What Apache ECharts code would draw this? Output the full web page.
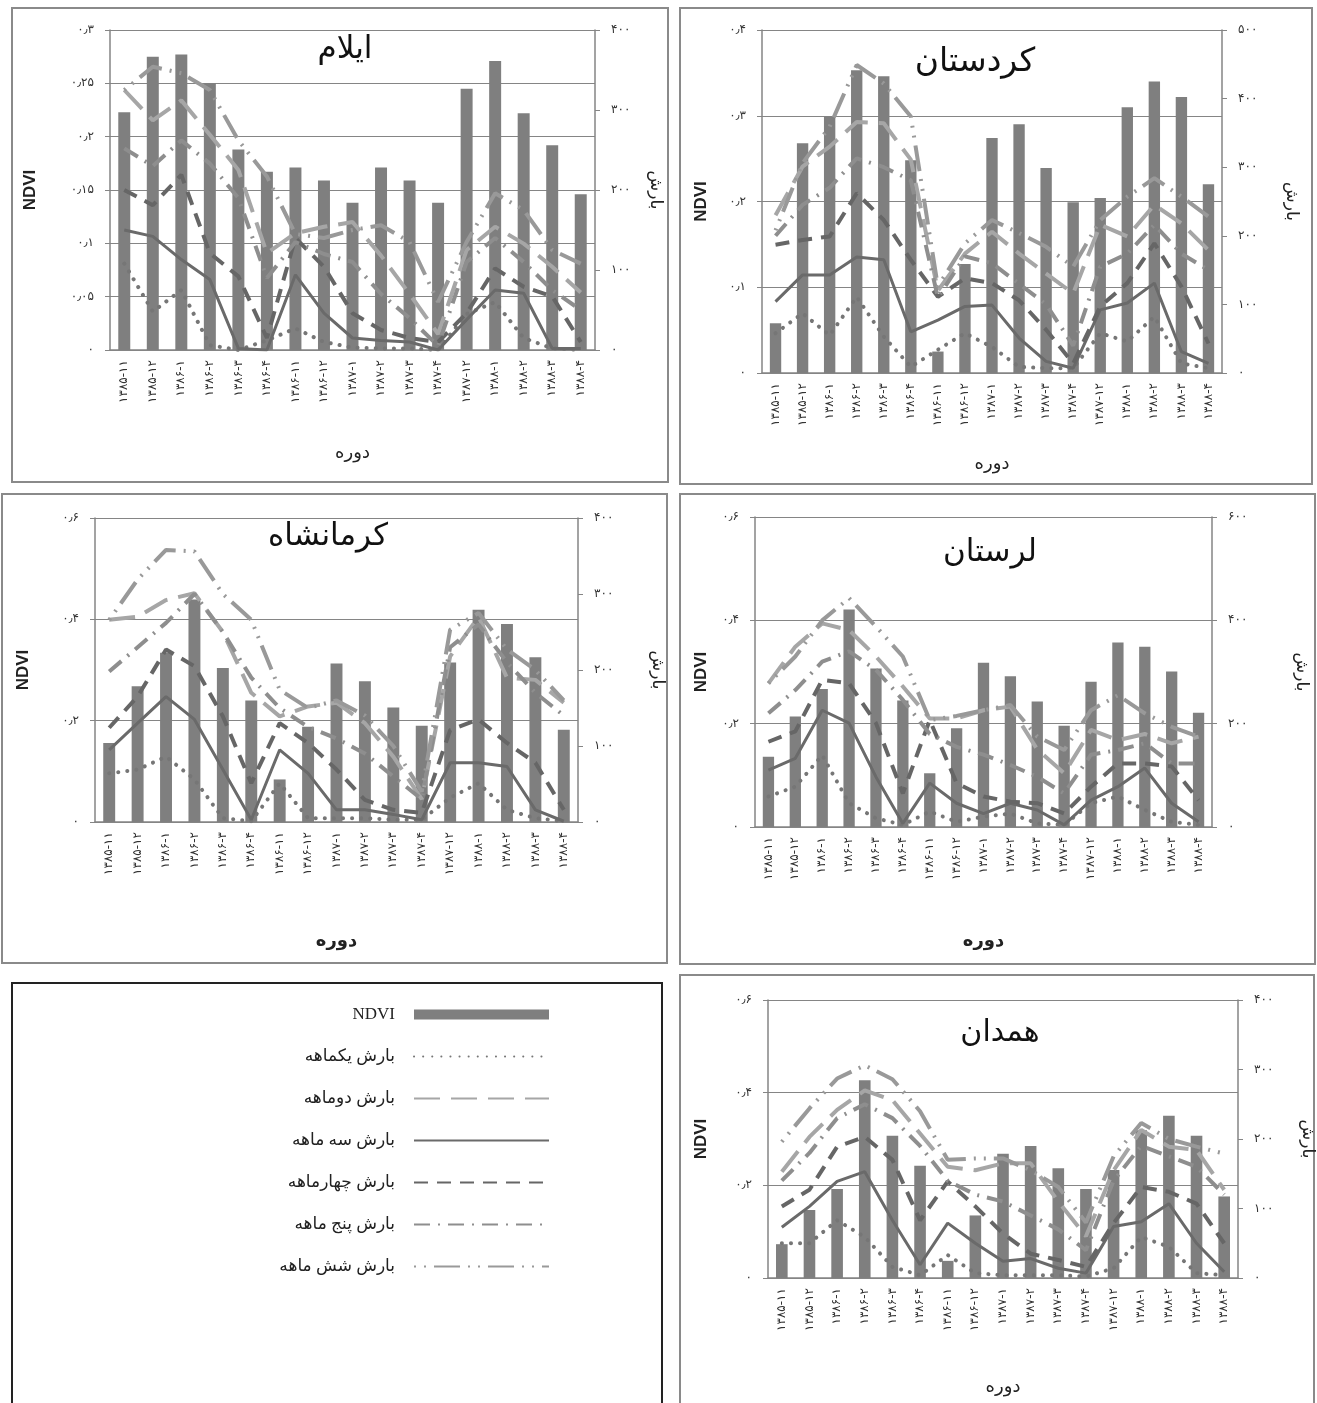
<!DOCTYPE html>
<html><head><meta charset="utf-8">
<script src="https://cdn.jsdelivr.net/npm/echarts@6/dist/echarts.min.js"></script>
<style>html,body{margin:0;padding:0;background:#fff}#c{width:1317px;height:1403px}</style>
</head><body><div id="c"></div><script>
// ---------- DATA ----------
const categories = ['۱۳۸۵-۱۱','۱۳۸۵-۱۲','۱۳۸۶-۱','۱۳۸۶-۲','۱۳۸۶-۳','۱۳۸۶-۴','۱۳۸۶-۱۱','۱۳۸۶-۱۲','۱۳۸۷-۱','۱۳۸۷-۲','۱۳۸۷-۳','۱۳۸۷-۴','۱۳۸۷-۱۲','۱۳۸۸-۱','۱۳۸۸-۲','۱۳۸۸-۳','۱۳۸۸-۴'];
const seriesNames = ['NDVI','بارش یکماهه','بارش دوماهه','بارش سه ماهه','بارش چهارماهه','بارش پنج ماهه','بارش شش ماهه'];
const panelTitles = ['ایلام','کردستان','کرمانشاه','لرستان','همدان'];
const xAxisName = 'دوره';
const leftAxisName = 'NDVI';
const rightAxisName = 'بارش';

// Ilam
const ilamNdvi  = [0.223,0.275,0.277,0.25,0.188,0.167,0.171,0.159,0.138,0.171,0.159,0.138,0.245,0.271,0.222,0.192,0.146];
const ilamRain1 = [108,48,75,6,0,12,27,10,3,2,2,0,45,60,15,2,0];
const ilamRain2 = [325,287,312,269,225,121,146,154,160,118,70,20,125,154,133,104,72];
const ilamRain3 = [150,142,113,88,2,0,94,46,15,12,10,0,38,75,71,2,2];
const ilamRain4 = [200,181,219,121,92,15,140,104,46,25,15,10,46,102,79,67,10];
const ilamRain5 = [252,230,262,233,190,90,135,120,110,70,40,5,110,140,110,75,50];
const ilamRain6 = [325,354,346,325,262,217,145,140,150,156,135,60,135,196,175,125,108];
const ilamNdviTicks = ['۰','۰٫۰۵','۰٫۱','۰٫۱۵','۰٫۲','۰٫۲۵','۰٫۳'];
const ilamRainTicks = ['۰','۱۰۰','۲۰۰','۳۰۰','۴۰۰'];

// Kordestan
const kordNdvi  = [0.058,0.268,0.299,0.353,0.346,0.248,0.025,0.127,0.274,0.29,0.239,0.199,0.204,0.31,0.34,0.322,0.22];
const kordRain1 = [58,87,55,111,53,9,34,58,38,9,7,7,58,46,82,14,7];
const kordRain2 = [230,301,330,366,364,311,120,174,206,174,145,116,216,199,245,218,179];
const kordRain3 = [104,143,143,169,165,60,77,97,99,51,17,7,92,102,131,31,14];
const kordRain4 = [187,194,199,262,223,165,111,138,131,106,63,14,97,131,189,126,43];
const kordRain5 = [200,245,270,313,300,281,110,170,160,130,100,40,155,174,216,174,150];
const kordRain6 = [208,306,359,449,422,374,126,189,223,204,184,155,223,257,284,257,228];
const kordNdviTicks = ['۰','۰٫۱','۰٫۲','۰٫۳','۰٫۴'];
const kordRainTicks = ['۰','۱۰۰','۲۰۰','۳۰۰','۴۰۰','۵۰۰'];

// Kermanshah
const kermNdvi  = [0.156,0.268,0.334,0.439,0.304,0.24,0.084,0.188,0.313,0.278,0.226,0.19,0.315,0.419,0.391,0.325,0.182];
const kermRain1 = [64,69,86,56,5,1,51,5,5,5,3,3,32,51,16,5,1];
const kermRain2 = [266,270,292,301,250,170,139,152,157,130,86,30,218,270,190,187,157];
const kermRain3 = [95,130,165,135,69,3,95,64,16,16,10,3,78,78,73,16,1];
const kermRain4 = [124,165,227,205,139,51,130,104,69,29,16,12,121,135,104,78,16];
const kermRain5 = [198,230,262,300,250,190,150,125,110,90,60,30,230,260,210,170,140];
const kermRain6 = [266,319,358,356,300,266,174,150,160,140,100,40,253,275,227,200,160];
const kermNdviTicks = ['۰','۰٫۲','۰٫۴','۰٫۶'];
const kermRainTicks = ['۰','۱۰۰','۲۰۰','۳۰۰','۴۰۰'];

// Lorestan
const lorNdvi  = [0.136,0.214,0.267,0.421,0.307,0.245,0.104,0.191,0.318,0.292,0.243,0.196,0.281,0.357,0.349,0.301,0.221];
const lorRain1 = [59,78,139,46,17,4,30,10,20,26,7,4,46,59,33,10,4];
const lorRain2 = [278,349,394,381,330,272,210,210,226,233,150,104,188,168,180,162,175];
const lorRain3 = [110,133,226,201,97,7,85,46,26,46,33,4,52,78,114,46,10];
const lorRain4 = [165,185,285,278,201,65,207,85,59,49,46,26,78,123,123,117,52];
const lorRain5 = [220,265,320,340,304,246,180,155,140,120,97,65,140,149,162,123,123];
const lorRain6 = [278,330,400,443,388,330,207,215,226,236,175,149,226,255,220,194,175];
const lorNdviTicks = ['۰','۰٫۲','۰٫۴','۰٫۶'];
const lorRainTicks = ['۰','۲۰۰','۴۰۰','۶۰۰'];

// Hamedan
const hamNdvi  = [0.073,0.147,0.192,0.427,0.307,0.242,0.037,0.135,0.268,0.285,0.237,0.192,0.233,0.319,0.35,0.307,0.176];
const hamRain1 = [50,50,83,59,16,4,33,7,4,4,4,2,14,59,45,7,4];
const hamRain2 = [153,203,242,270,256,208,160,155,165,165,110,60,155,213,189,184,127];
const hamRain3 = [73,103,139,153,83,19,79,50,24,28,14,7,74,81,107,50,9];
const hamRain4 = [103,127,189,203,170,83,139,103,64,35,26,16,79,131,124,107,50];
const hamRain5 = [140,180,230,250,230,190,140,120,110,90,70,40,140,190,175,160,120];
const hamRain6 = [196,244,287,306,286,240,170,172,172,155,131,80,175,223,200,189,179];
const hamNdviTicks = ['۰','۰٫۲','۰٫۴','۰٫۶'];
const hamRainTicks = ['۰','۱۰۰','۲۰۰','۳۰۰','۴۰۰'];

// ---------- LAYOUT / STYLE ----------
const panels = [
  {ndvi: ilamNdvi, rain:[ilamRain1,ilamRain2,ilamRain3,ilamRain4,ilamRain5,ilamRain6], nt: ilamNdviTicks, rt: ilamRainTicks,
   nMax:0.3, nInt:0.05, rMax:400, rInt:100, grid:{left:110, top:30, width:485, height:320},
   box:[12,8,656,474], title:[345,50,31], xGap:94, nGap:71, rGap:52, xBold:false},
  {ndvi: kordNdvi, rain:[kordRain1,kordRain2,kordRain3,kordRain4,kordRain5,kordRain6], nt: kordNdviTicks, rt: kordRainTicks,
   nMax:0.4, nInt:0.1, rMax:500, rInt:100, grid:{left:762, top:30, width:460, height:343},
   box:[680,8,632,476], title:[975,62,33], xGap:82, nGap:52, rGap:61, xBold:false},
  {ndvi: kermNdvi, rain:[kermRain1,kermRain2,kermRain3,kermRain4,kermRain5,kermRain6], nt: kermNdviTicks, rt: kermRainTicks,
   nMax:0.6, nInt:0.2, rMax:400, rInt:100, grid:{left:95, top:518, width:483, height:304},
   box:[2,494,665,469], title:[328,537,31], xGap:110, nGap:63, rGap:71, xBold:true},
  {ndvi: lorNdvi, rain:[lorRain1,lorRain2,lorRain3,lorRain4,lorRain5,lorRain6], nt: lorNdviTicks, rt: lorRainTicks,
   nMax:0.6, nInt:0.2, rMax:600, rInt:200, grid:{left:755, top:517, width:457, height:310},
   box:[680,494,635,470], title:[990,553,31], xGap:105, nGap:45, rGap:81, xBold:true},
  {ndvi: hamNdvi, rain:[hamRain1,hamRain2,hamRain3,hamRain4,hamRain5,hamRain6], nt: hamNdviTicks, rt: hamRainTicks,
   nMax:0.6, nInt:0.2, rMax:400, rInt:100, grid:{left:768, top:1000, width:472, height:278},
   box:[680,975,634,430], title:[1000,1033,30], xGap:100, nGap:58, rGap:61, xBold:false}
];

const lineStyles = [
  {color:'#767676', width:4, type:[0.1,9], cap:'round'},
  {color:'#a6a6a6', width:4, type:[26,11]},
  {color:'#6a6a6a', width:3},
  {color:'#666666', width:4, type:[14,9]},
  {color:'#8e8e8e', width:4, type:[16,8,2,8]},
  {color:'#999999', width:4, type:[2,8,2,8,26,8]}
];
const persianFont = 'DejaVu Sans';
const gridColor = '#858585';

const grids = [], xAxes = [], yAxes = [], series = [], graphics = [];
panels.forEach((p, i) => {
  grids.push(p.grid);
  xAxes.push({
    type:'category', gridIndex:i, data:categories,
    name:xAxisName, nameLocation:'middle', nameGap:p.xGap,
    nameTextStyle:{fontFamily:persianFont, fontSize:18, color:'#222', fontWeight: p.xBold ? 'bold' : 'normal'},
    axisLine:{lineStyle:{color:gridColor, width:1.5}},
    axisTick:{show:false},
    axisLabel:{rotate:90, interval:0, fontSize:12, color:'#333', fontFamily:persianFont, margin:10}
  });
  yAxes.push({
    type:'value', gridIndex:i, position:'left', min:0, max:p.nMax, interval:p.nInt,
    name:leftAxisName, nameLocation:'middle', nameRotate:90, nameGap:p.nGap,
    nameTextStyle:{fontFamily:'Liberation Sans', fontWeight:'bold', fontSize:17, color:'#222'},
    axisLine:{show:true, lineStyle:{color:gridColor, width:1.5}},
    axisTick:{show:true, length:5, lineStyle:{color:gridColor}},
    splitLine:{show:true, lineStyle:{color:gridColor, width:1}},
    axisLabel:{fontSize:12, color:'#333', fontFamily:persianFont, margin:16,
      formatter:(v) => p.nt[Math.round(v / p.nInt)]}
  });
  yAxes.push({
    type:'value', gridIndex:i, position:'right', min:0, max:p.rMax, interval:p.rInt,
    name:rightAxisName, nameLocation:'middle', nameRotate:-90, nameGap:p.rGap,
    nameTextStyle:{fontFamily:persianFont, fontSize:17, color:'#222'},
    axisLine:{show:true, lineStyle:{color:gridColor, width:1.5}},
    axisTick:{show:true, length:5, lineStyle:{color:gridColor}},
    splitLine:{show:false},
    axisLabel:{fontSize:12, color:'#333', fontFamily:persianFont, margin:16,
      formatter:(v) => p.rt[Math.round(v / p.rInt)]}
  });
  series.push({
    type:'bar', name:seriesNames[0], xAxisIndex:i, yAxisIndex:2*i, data:p.ndvi,
    barWidth:'42%', itemStyle:{color:'#7f7f7f'}, z:1
  });
  p.rain.forEach((arr, k) => {
    series.push({
      type:'line', name:seriesNames[k+1], xAxisIndex:i, yAxisIndex:2*i+1, data:arr,
      symbol:'none', lineStyle:lineStyles[k], itemStyle:{color:lineStyles[k].color}, z:3+k
    });
  });
  graphics.push({type:'rect', shape:{x:p.box[0], y:p.box[1], width:p.box[2], height:p.box[3]},
    style:{fill:'none', stroke:'#8a8a8a', lineWidth:2}, z:-1});
  graphics.push({type:'text', x:p.title[0], y:p.title[1], z:10,
    style:{text:panelTitles[i], fontFamily:persianFont, fontSize:p.title[2], fill:'#111', align:'center', verticalAlign:'middle'}});
});
graphics.push({type:'rect', shape:{x:12, y:983, width:650, height:430},
  style:{fill:'none', stroke:'#222', lineWidth:2}, z:-1});

const legendData = seriesNames.map((n, k) => k === 0
  ? {name:n, icon:'rect'}
  : {name:n, itemStyle:{opacity:0}});

const chart = echarts.init(document.getElementById('c'), null, {renderer:'canvas'});
chart.setOption({
  animation:false,
  backgroundColor:'#fff',
  grid:grids, xAxis:xAxes, yAxis:yAxes, series:series,
  graphic:graphics,
  legend:{
    orient:'vertical', align:'right', right:762, top:1001,
    data:legendData, itemWidth:135, itemHeight:10, itemGap:25,
    selectedMode:false,
    textStyle:{fontFamily:'Liberation Serif, DejaVu Sans', fontSize:17, color:'#222', padding:[0,14,0,0]}
  }
});
</script></body></html>
